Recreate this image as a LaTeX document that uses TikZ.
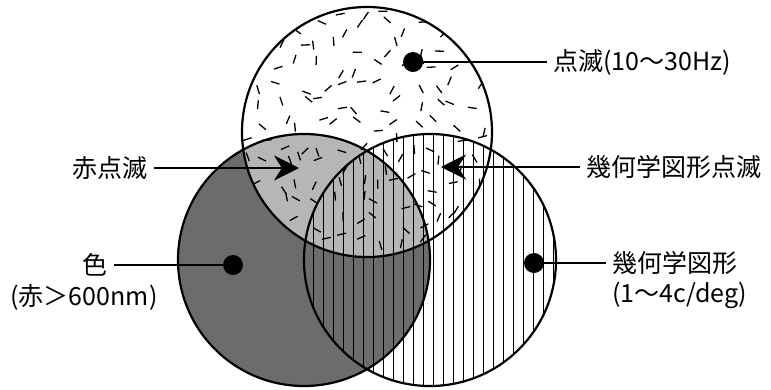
\documentclass[tikz,border=0pt]{standalone}
\usepackage{fontspec}
\newfontfamily\jp{Noto Sans CJK JP}
\usetikzlibrary{arrows.meta}
\definecolor{darkg}{HTML}{6C6C6C}
\definecolor{lightg}{HTML}{B6B6B6}
\begin{document}
\begin{tikzpicture}[x=1pt,y=-1pt,
  lbl/.style={font=\jp\fontsize{25}{28}\selectfont, inner xsep=6pt, inner ysep=0pt},
  dotn/.style={circle, fill=black, minimum size=20pt, inner sep=0pt},
  conn/.style={line width=2pt},
  arr/.style={line width=2pt, -{Stealth[length=25pt,width=25pt,inset=8pt]}},
  ring/.style={line width=2.2pt},
  vline/.style={line width=1.3pt},
  dashmark/.style={line width=1.3pt}
]
\useasboundingbox (0,0) rectangle (771,389);
% fills
\fill[darkg] (304,260) circle[radius=126];
\begin{scope}
  \clip (367,132) circle[radius=125];
  \fill[lightg] (304,260) circle[radius=126];
\end{scope}
% vertical lines
\begin{scope}
  \clip (430,260) circle[radius=126];
  \foreach \x in {303.5,313.5,...,560} \draw[vline] (\x,130) -- (\x,389);
\end{scope}
% dashes
\pgfmathsetseed{42}
\begin{scope}
  \clip (367,132) circle[radius=125];
  \foreach \i in {0,...,13}{
    \foreach \j in {0,...,13}{
      \pgfmathsetmacro\cx{243+\i*19.5+8*rand}
      \pgfmathsetmacro\cy{8+\j*19.5+8*rand}
      \pgfmathsetmacro\an{180*rnd}
      \draw[dashmark] (\cx,\cy) ++(\an:-4.5) -- ++(\an:9);
    }}
\end{scope}
% outlines
\draw[ring] (367,132) circle[radius=125];
\draw[ring] (304,260) circle[radius=126];
\draw[ring] (430,260) circle[radius=126];
% dots
\node[dotn] (topdot) at (413,62) {};
\node[dotn] (leftdot) at (233,265) {};
\node[dotn] (rightdot) at (534,263) {};
% labels
\node[lbl, anchor=west] (t1) at (547,62) {点滅(10～30Hz)};
\node[lbl, anchor=east] (t2) at (154,168) {赤点滅};
\node[lbl, anchor=west] (t3) at (580,167) {幾何学図形点滅};
\node[lbl, anchor=east] (t4) at (114,265) {色};
\node[lbl, anchor=center] (t5) at (84,297) {(赤＞600nm)};
\node[lbl, anchor=west] (t6) at (606,263) {幾何学図形};
\node[lbl, anchor=west] (t7) at (606,295) {(1～4c/deg)};
\coordinate (a2) at (299,168);
\coordinate (a3) at (441,167);
% connectors
\draw[conn] (topdot) -- (topdot -| t1.west);
\draw[conn] (leftdot) -- (leftdot -| t4.east);
\draw[conn] (rightdot) -- (rightdot -| t6.west);
\draw[arr] (t2.east) -- (a2);
\draw[arr] (t3.west) -- (a3);
\end{tikzpicture}
\end{document}
